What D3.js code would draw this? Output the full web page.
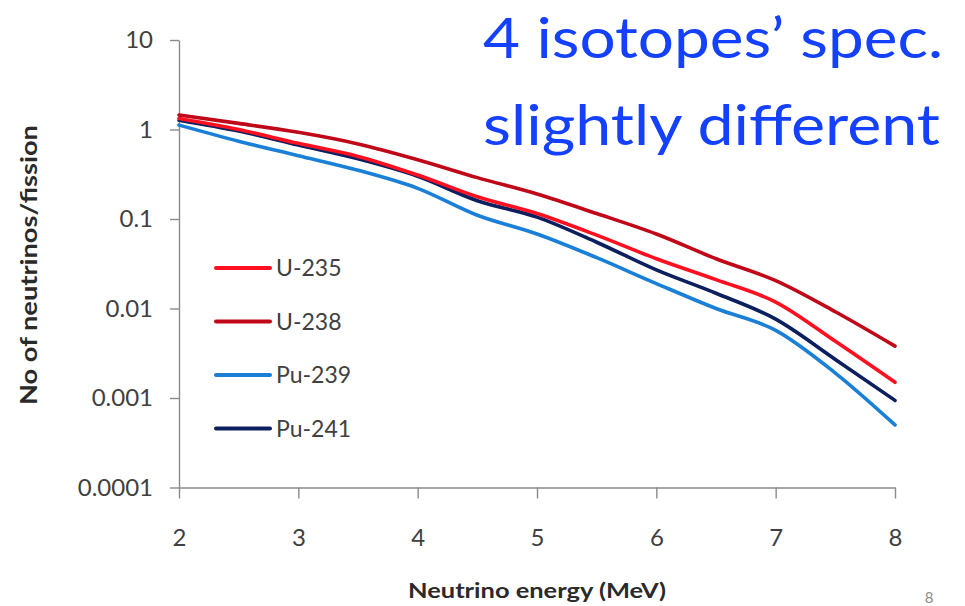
<!DOCTYPE html>
<html>
<head>
<meta charset="utf-8">
<script src="https://cdn.jsdelivr.net/npm/d3@7"></script>
<style>
  html, body { margin: 0; padding: 0; background: #ffffff; }
  svg { display: block; }
</style>
</head>
<body>
<script>
// Antineutrino spectra per fission for the four main reactor fuel isotopes
const energies = [2, 2.5, 3, 3.5, 4, 4.5, 5, 5.5, 6, 6.5, 7, 7.5, 8];
const u235  = [1.33, 1.00, 0.70, 0.50, 0.31, 0.177, 0.115, 0.066, 0.036, 0.021, 0.0118, 0.0043, 0.0015];
const u238  = [1.45, 1.17, 0.93, 0.69, 0.46, 0.29, 0.19, 0.115, 0.068, 0.036, 0.0205, 0.0092, 0.0038];
const pu239 = [1.12, 0.74, 0.51, 0.35, 0.22, 0.11, 0.068, 0.037, 0.019, 0.0100, 0.0057, 0.0019, 0.0005];
const pu241 = [1.27, 0.96, 0.67, 0.47, 0.30, 0.16, 0.105, 0.055, 0.027, 0.0148, 0.0076, 0.0027, 0.00094];

const seriesNames  = ["U-235", "U-238", "Pu-239", "Pu-241"];
const seriesColors = ["#ff1020", "#c00818", "#1a7fd6", "#0c1f5e"];
const seriesValues = [u235, u238, pu239, pu241];

const xTicks = [2, 3, 4, 5, 6, 7, 8];
const yTicks = [10, 1, 0.1, 0.01, 0.001, 0.0001];
const yTickLabels = ["10", "1", "0.1", "0.01", "0.001", "0.0001"];

const titleLines = ["4 isotopes\u2019 spec.", "slightly different"];
const xTitle = "Neutrino energy (MeV)";
const yTitle = "No of neutrinos/fission";

const W = 965, H = 606;
const FONT = "Lato, 'Open Sans', sans-serif";
const TEXT = "#404040";
const AXIS = "#8a8a8a";

const svg = d3.select("body").append("svg")
  .attr("width", W).attr("height", H)
  .style("font-family", FONT);

svg.append("rect").attr("width", W).attr("height", H).attr("fill", "#ffffff");

const x = d3.scaleLinear().domain([2, 8]).range([179, 895]);
const y = d3.scaleLog().domain([0.0001, 10]).range([487.5, 40]);

// Axes
const yAxis = d3.axisLeft(y)
  .tickValues(yTicks)
  .tickFormat((d, i) => yTickLabels[i])
  .tickSize(9).tickSizeOuter(0).tickPadding(17);
const xAxis = d3.axisBottom(x)
  .tickValues(xTicks)
  .tickFormat(d3.format("d"))
  .tickSize(11).tickSizeOuter(0).tickPadding(30);

function styleAxis(g) {
  g.select(".domain").attr("stroke", AXIS).attr("stroke-width", 1.4);
  g.selectAll(".tick line").attr("stroke", AXIS).attr("stroke-width", 1.4);
  g.selectAll(".tick text")
    .attr("fill", TEXT)
    .style("font-family", FONT)
    .style("font-size", "24px");
}

svg.append("g").attr("transform", `translate(0,${y(0.0001)})`).call(xAxis).call(styleAxis);
svg.append("g").attr("transform", `translate(${x(2)},0)`).call(yAxis).call(styleAxis);

// Spectrum curves
const line = d3.line()
  .x((d, i) => x(energies[i]))
  .y(d => y(d))
  .curve(d3.curveMonotoneX);

const drawOrder = [2, 3, 0, 1];
drawOrder.forEach(k => {
  svg.append("path")
    .datum(seriesValues[k])
    .attr("fill", "none")
    .attr("stroke", seriesColors[k])
    .attr("stroke-width", 3.6)
    .attr("stroke-linecap", "round")
    .attr("stroke-linejoin", "round")
    .attr("d", line);
});

// Legend
const legend = svg.append("g").attr("transform", "translate(216,268)");
seriesNames.forEach((name, i) => {
  const row = legend.append("g").attr("transform", `translate(0,${i * 53.5})`);
  row.append("line")
    .attr("x1", 0).attr("x2", 54).attr("y1", 0).attr("y2", 0)
    .attr("stroke", seriesColors[i]).attr("stroke-width", 4)
    .attr("stroke-linecap", "round");
  row.append("text")
    .attr("x", 60).attr("y", 0).attr("dy", "0.36em")
    .attr("fill", TEXT)
    .style("font-size", "23px")
    .text(name);
});

// Axis titles
svg.append("text")
  .attr("x", 537).attr("y", 598)
  .attr("text-anchor", "middle")
  .attr("fill", "#2a2a2a")
  .style("font-size", "21px").style("font-weight", "bold")
  .attr("textLength", 258).attr("lengthAdjust", "spacingAndGlyphs")
  .text(xTitle);

svg.append("text")
  .attr("transform", "translate(37,265) rotate(-90)")
  .attr("text-anchor", "middle")
  .attr("fill", "#2a2a2a")
  .style("font-size", "22px").style("font-weight", "bold")
  .attr("textLength", 280).attr("lengthAdjust", "spacingAndGlyphs")
  .text(yTitle);

// Headline
const titleWidths = [460, 457];
const titleBase = [58, 145];
titleLines.forEach((t, i) => {
  svg.append("text")
    .attr("x", 483).attr("y", titleBase[i])
    .attr("fill", "#1440ff")
    .style("font-size", "56px")
    .attr("textLength", titleWidths[i]).attr("lengthAdjust", "spacingAndGlyphs")
    .text(t);
});

// Slide number
svg.append("text")
  .attr("x", 929).attr("y", 603)
  .attr("text-anchor", "middle")
  .attr("fill", "#8a8a8a")
  .style("font-size", "15px")
  .text("8");
</script>
</body>
</html>
